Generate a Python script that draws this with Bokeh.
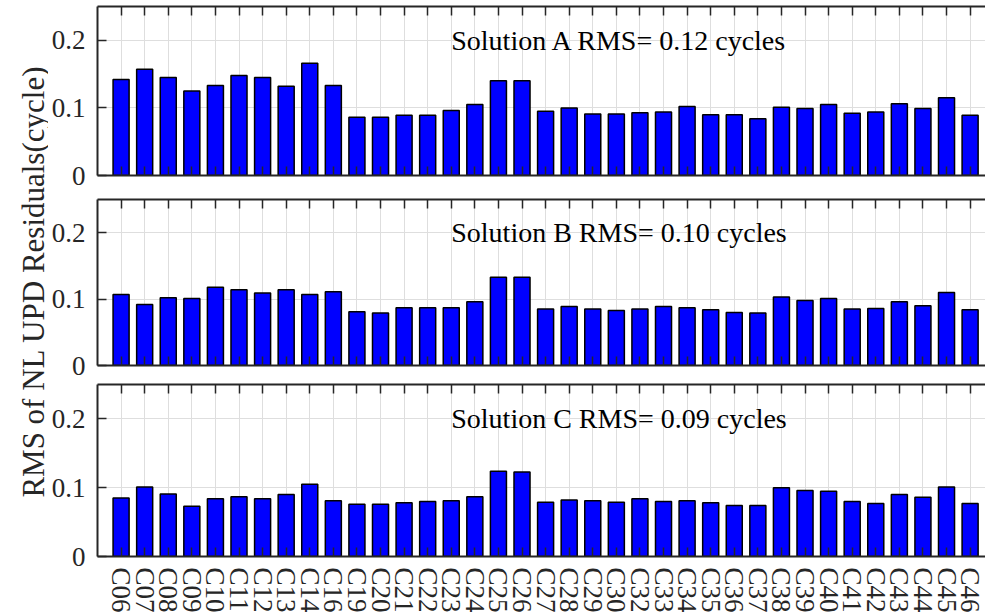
import numpy as np
from bokeh.plotting import figure
from bokeh.layouts import column, row
from bokeh.models import Range1d, FixedTicker, LinearAxis, Label
from bokeh.embed import file_html
from bokeh.resources import INLINE

# Satellites (BDS PRN) and per-satellite RMS of NL UPD residuals (cycles)
satellites = ["C06", "C07", "C08", "C09", "C10", "C11", "C12", "C13", "C14", "C16",
              "C19", "C20", "C21", "C22", "C23", "C24", "C25", "C26", "C27", "C28",
              "C29", "C30", "C32", "C33", "C34", "C35", "C36", "C37", "C38", "C39",
              "C40", "C41", "C42", "C43", "C44", "C45", "C46"]

rms_a = [0.142, 0.157, 0.145, 0.125, 0.133, 0.148, 0.145, 0.132, 0.166, 0.133,
         0.086, 0.086, 0.089, 0.089, 0.096, 0.105, 0.140, 0.140, 0.095, 0.100,
         0.091, 0.091, 0.093, 0.094, 0.102, 0.090, 0.090, 0.084, 0.101, 0.099,
         0.105, 0.092, 0.094, 0.106, 0.099, 0.115, 0.089]

rms_b = [0.107, 0.092, 0.102, 0.101, 0.118, 0.114, 0.109, 0.114, 0.107, 0.111,
         0.081, 0.079, 0.087, 0.087, 0.087, 0.096, 0.133, 0.133, 0.085, 0.089,
         0.085, 0.083, 0.085, 0.089, 0.087, 0.084, 0.080, 0.079, 0.103, 0.098,
         0.101, 0.085, 0.086, 0.096, 0.090, 0.110, 0.084]

rms_c = [0.085, 0.101, 0.091, 0.073, 0.084, 0.087, 0.084, 0.090, 0.105, 0.081,
         0.076, 0.076, 0.078, 0.080, 0.081, 0.087, 0.124, 0.123, 0.079, 0.082,
         0.081, 0.079, 0.084, 0.080, 0.081, 0.078, 0.074, 0.074, 0.100, 0.096,
         0.095, 0.080, 0.077, 0.090, 0.086, 0.101, 0.077]

panel_titles = ["Solution A RMS= 0.12 cycles",
                "Solution B RMS= 0.10 cycles",
                "Solution C RMS= 0.09 cycles"]

y_ticks = [0, 0.1, 0.2]
y_tick_labels = ["0", "0.1", "0.2"]
y_title = "RMS of NL UPD Residuals(cycle)"

FONT = "Liberation Serif"
AXIS_COLOR = "#262626"
GRID_COLOR = "#dedede"
LABEL_COL_W = 48

x_pos = list(range(1, len(satellites) + 1))
x_labels = {x: s for x, s in zip(x_pos, satellites)}
y_labels = {t: l for t, l in zip(y_ticks, y_tick_labels)}


def hide_labels(axis):
    axis.major_label_text_color = None
    axis.major_label_text_font_size = "1px"
    axis.major_label_standoff = 0


def style_axis(axis, ticker, tick_in):
    axis.ticker = ticker
    axis.minor_tick_line_color = None
    axis.major_tick_in = tick_in
    axis.major_tick_out = 0
    axis.major_tick_line_color = AXIS_COLOR
    axis.major_tick_line_width = 1.5
    axis.axis_line_color = AXIS_COLOR
    axis.axis_line_width = 2


def make_panel(values, title, top_border, frame_h, bottom_border, show_xlabels=False):
    p = figure(frame_width=891, frame_height=frame_h,
               x_range=Range1d(0, 37.78), y_range=Range1d(0, 0.25),
               output_backend="svg", toolbar_location=None,
               min_border_left=94 - LABEL_COL_W, min_border_right=0,
               min_border_top=top_border, min_border_bottom=bottom_border)
    p.outline_line_color = None

    p.vbar(x=x_pos, top=values, width=0.68, bottom=0,
           fill_color="#0000FF", line_color="black", line_width=1.5)

    xt = FixedTicker(ticks=x_pos)
    yt = FixedTicker(ticks=y_ticks)

    p.xgrid.ticker = xt
    p.ygrid.ticker = yt
    for g in (p.xgrid, p.ygrid):
        g.grid_line_color = GRID_COLOR
        g.grid_line_width = 1

    xa = p.xaxis[0]
    style_axis(xa, xt, 9)
    if show_xlabels:
        xa.major_label_overrides = x_labels
        xa.major_label_orientation = -np.pi / 2
        xa.major_label_text_font = FONT
        xa.major_label_text_font_size = "27px"
        xa.major_label_text_color = AXIS_COLOR
        xa.major_label_standoff = 11
    else:
        hide_labels(xa)

    ya = p.yaxis[0]
    style_axis(ya, yt, 9)
    ya.major_label_overrides = y_labels
    ya.major_label_text_font = FONT
    ya.major_label_text_font_size = "27px"
    ya.major_label_text_color = AXIS_COLOR
    ya.major_label_standoff = 12

    # mirrored box ticks on top and right
    top = LinearAxis()
    style_axis(top, xt, 9)
    hide_labels(top)
    p.add_layout(top, "above")
    right = LinearAxis()
    style_axis(right, yt, 3)
    right.axis_line_color = None
    hide_labels(right)
    p.add_layout(right, "right")

    p.add_layout(Label(x=15, y=0.2, text=title, text_font=FONT,
                       text_font_size="28px", text_color="black",
                       text_baseline="middle", text_align="left"))
    return p


pa = make_panel(rms_a, panel_titles[0], 6, 169, 16)
pb = make_panel(rms_b, panel_titles[1], 8, 166, 16)
pc = make_panel(rms_c, panel_titles[2], 3, 172, 60, show_xlabels=True)

# shared y-axis title in its own narrow column
ylab = figure(width=LABEL_COL_W, height=616, x_range=Range1d(0, 1), y_range=Range1d(0, 1),
              output_backend="svg", toolbar_location=None,
              x_axis_location=None, y_axis_location=None,
              min_border=0, min_border_left=0, min_border_right=0,
              min_border_top=0, min_border_bottom=0)
ylab.outline_line_color = None
ylab.grid.visible = False
ylab.add_layout(Label(x=33 / LABEL_COL_W, y=1 - 281 / 616, text=y_title,
                      angle=np.pi / 2, text_font=FONT, text_font_size="31px",
                      text_color=AXIS_COLOR, text_align="center",
                      text_baseline="alphabetic"))

layout = row(ylab, column(pa, pb, pc, spacing=0), spacing=0)

open("out.html", "w").write(file_html(layout, INLINE))
